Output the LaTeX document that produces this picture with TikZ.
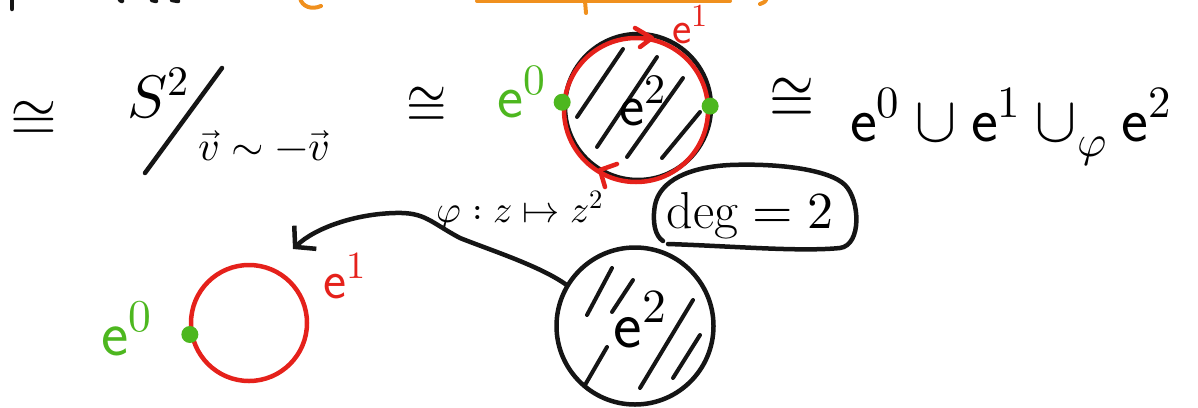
\documentclass[tikz,border=0pt]{standalone}
\usepackage{unicode-math}
\setmathfont{Latin Modern Math}
\usetikzlibrary{arrows.meta,calc}
\definecolor{inkblack}{HTML}{151515}
\definecolor{inkred}{HTML}{E5211B}
\definecolor{inkgreen}{HTML}{4DB71F}
\definecolor{inkorange}{HTML}{F0901E}

\begin{document}
\begin{tikzpicture}[
    x=1pt,y=-1pt,
    pen/.style    = {draw=inkblack,line width=4.5pt,line cap=round,line join=round},
    redpen/.style = {draw=inkred,line width=4.5pt,line cap=round,line join=round},
    orpen/.style  = {draw=inkorange,line width=4pt,line cap=round},
    hatch/.style  = {draw=inkblack,line width=4pt,line cap=round},
    sz/.style     = {inner sep=0pt,font=\fontsize{#1}{#1}\selectfont},
    dot/.style    = {circle,fill=inkgreen,inner sep=0pt,minimum size=17pt},
    disc/.style   = {circle,inner sep=0pt,minimum size=#1},
    fl/.style     = {pen,-{Straight Barb[length=14pt,width=32pt]}},
  ]
  \useasboundingbox (0,0) rectangle (1198,407);

  % cut-off strokes of the line above
  \draw[pen] (12,-2) -- (12,9);
  \draw[pen] (120,0) -- (122,1);
  \draw[pen] (152,0) -- (156,1);
  \draw[pen] (172,0) -- (178,1);
  \draw[orpen] (300,-2) .. controls (302,7) and (312,10) .. (321,6);
  \draw[orpen] (477,1) -- (730,1);
  \draw[orpen] (585,1) -- (586,13);
  \draw[orpen] (767,-2) .. controls (765,2) .. (760,4);

  % first row
  \node[sz=60pt] (iso1) at (34,118) {$\cong$};
  \node[sz=60pt,anchor=base] (sph) at (158,117) {$S^2$};
  \draw[pen] (145,173) -- (222,68);
  \node[sz=42pt,anchor=base] (rel) at (264,160) {$\vec v\sim-\vec v$};
  \node[sz=52pt,yscale=1.2] (iso2) at (427,104) {$\cong$};

  \node[disc=146pt,pen] (cell) at (638,107) {};
  \draw[hatch] (623,49) -- (577,117);
  \draw[hatch] (657,57) -- (597,147);
  \draw[hatch] (683,78) -- (627,157);
  \draw[hatch] (700,112) -- (662,158);
  \node[disc=144pt,redpen] (bnd) at (636,110) {};
  \draw[redpen] (635,28) -- (652,38) -- (640,47);
  \draw[redpen] (617,164) -- (600,170) -- (605,187);
  \node[sz=60pt,anchor=base] (ein) at (643,125) {$\mathsf{e}^2$};
  \node[dot] (d0) at (bnd.174) {};
  \node[dot] (d1) at (bnd.3) {};
  \node[sz=62pt,anchor=base,text=inkgreen] (l0) at (522,117) {$\mathsf{e}^0$};
  \node[sz=46pt,anchor=base,text=inkred] (l1) at (690,43) {$\mathsf{e}^1$};

  \node[sz=58pt,yscale=1.2] (iso3) at (792,97) {$\cong$};
  \node[sz=64pt,anchor=base west] (cw) at (850,141)
       {$\mathsf{e}^0\cup\mathsf{e}^1\cup_{\varphi}\mathsf{e}^2$};

  % second row
  \node[sz=38pt,anchor=base] (map) at (520,222) {$\varphi : z\mapsto z^2$};
  \node[sz=52pt,anchor=base] (deg) at (750,228) {$\deg = 2$};
  \draw[pen] (668,244) .. controls (730,246) and (800,252) .. (840,248)
       .. controls (862,245) and (860,200) .. (845,185)
       .. controls (830,170) and (780,163) .. (730,165)
       .. controls (690,167) and (660,180) .. (655,205)
       .. controls (652,222) and (655,236) .. (663,241);

  \node[disc=116pt,redpen] (sone) at (249,323) {};
  \node[dot] (d0b) at (sone.191) {};
  \node[sz=65pt,anchor=base,text=inkgreen] (l0b) at (127,355) {$\mathsf{e}^0$};
  \node[sz=55pt,anchor=base,text=inkred] (l1b) at (345,298) {$\mathsf{e}^1$};

  \node[disc=157pt,pen] (disk) at (635,326) {};
  \draw[hatch] (612,268) -- (587,315);
  \draw[hatch] (633,280) -- (612,312);
  \draw[hatch] (693,300) -- (640,388);
  \draw[hatch] (700,335) -- (673,378);
  \draw[hatch] (607,347) -- (585,385);
  \node[sz=68pt,anchor=base] (eout) at (640,347) {$\mathsf{e}^2$};

  \coordinate (tip) at (293,249);
  \draw[fl] (disk.149) .. controls (540,266) and (490,250) .. (460,238)
       .. controls (430,222) and (425,212) .. (395,213)
       .. controls (355,214) and (315,228) .. (tip);
\end{tikzpicture}
\end{document}
